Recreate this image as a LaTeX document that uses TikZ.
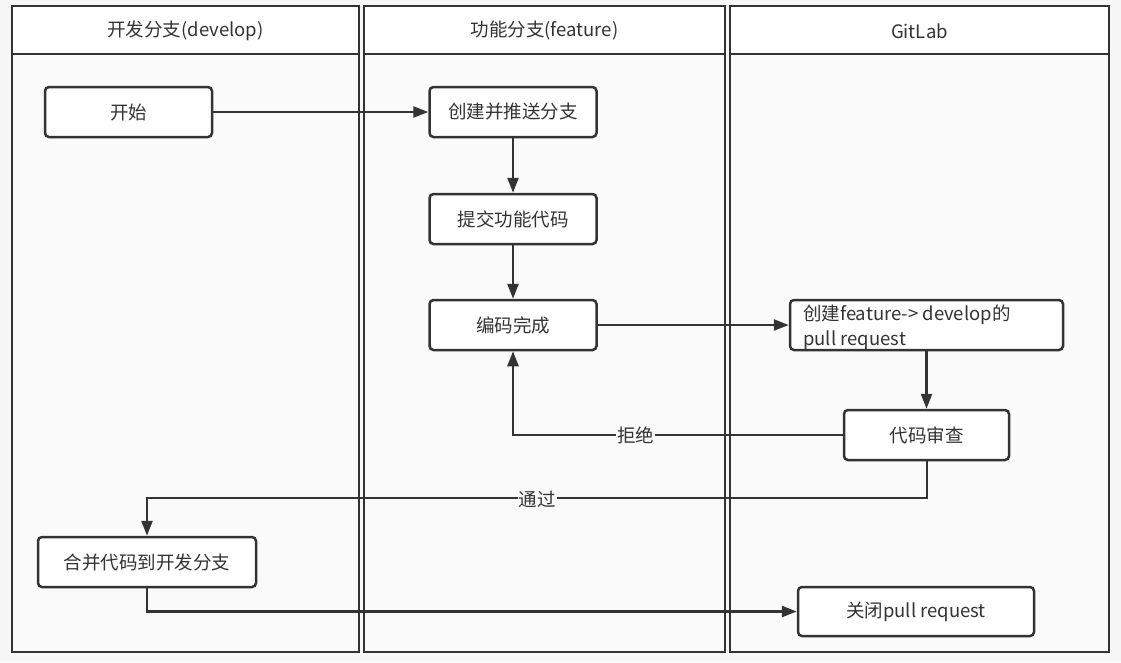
\documentclass[tikz,border=0pt]{standalone}
\usepackage{fontspec}
\setmainfont{Noto Sans CJK SC}
\usetikzlibrary{arrows.meta}
\definecolor{ln}{HTML}{333333}
\definecolor{bg}{HTML}{F7F7F7}
\definecolor{lane}{HTML}{FAFAFA}
\begin{document}
\begin{tikzpicture}[x=1pt,y=-1pt,
  lanebox/.style={draw=ln,line width=2.5pt,fill=lane},
  headbox/.style={draw=ln,line width=2.5pt,fill=white},
  headtext/.style={text=ln,font=\fontsize{18.5}{22}\selectfont},
  proc/.style={draw=ln,line width=2.5pt,fill=white,rounded corners=4pt,inner sep=0pt,text=ln,font=\fontsize{18.5}{22}\selectfont},
  conn/.style={draw=ln,line width=2.5pt,-{Triangle[length=15pt,width=11pt]}},
  lbl/.style={fill=lane,text=ln,inner sep=1pt,font=\fontsize{18.5}{22}\selectfont}
]
\fill[bg] (0,0) rectangle (1121,662);
\useasboundingbox (0,0) rectangle (1121,662);
% lanes
\draw[lanebox] (12,6) rectangle (359,652);
\draw[headbox] (12,6) rectangle (359,54);
\node[headtext] (h1) at (185.5,31) {开发分支(develop)};
\draw[lanebox] (364,6) rectangle (725,652);
\draw[headbox] (364,6) rectangle (725,54);
\node[headtext] (h2) at (544.5,31) {功能分支(feature)};
\draw[lanebox] (730,6) rectangle (1109,652);
\draw[headbox] (730,6) rectangle (1109,54);
\node[headtext] (h3) at (919.5,31) {GitLab};
% nodes
\node[proc,minimum width=167pt,minimum height=50pt] (start) at (128.5,112) {开始};
\node[proc,minimum width=167pt,minimum height=50pt] (push) at (513,112) {创建并推送分支};
\node[proc,minimum width=167pt,minimum height=50pt] (commit) at (513,219) {提交功能代码};
\node[proc,minimum width=167pt,minimum height=50pt] (done) at (513,325) {编码完成};
\node[proc,minimum width=273pt,minimum height=50pt] (pr) at (926.5,325) {};
\node[text=ln,font=\fontsize{18.5}{25}\selectfont,anchor=north west,align=left,inner sep=0pt] (prtext) at (803,305) {创建feature-> develop的\\pull request};
\node[proc,minimum width=165pt,minimum height=50pt] (review) at (926.5,435) {代码审查};
\node[proc,minimum width=218pt,minimum height=50pt] (merge) at (147,562) {合并代码到开发分支};
\node[proc,minimum width=236pt,minimum height=49pt] (close) at (916,611.5) {关闭pull request};
% connectors
\draw[conn] (start) -- (push);
\draw[conn] (push) -- (commit);
\draw[conn] (commit) -- (done);
\draw[conn] (done) -- (pr.west |- done);
\draw[conn] (pr.south -| review) -- (review);
\draw[conn] (review.west) -| node[lbl,pos=0.314] (rej) {拒绝} (done.south);
\coordinate (pass) at (927,498);
\draw[conn] (review.south -| pass) -- (pass) -| (merge.north);
\node[lbl] (passl) at (537,499) {通过};
\draw[conn] (merge.south) |- (close.west);
\end{tikzpicture}
\end{document}
